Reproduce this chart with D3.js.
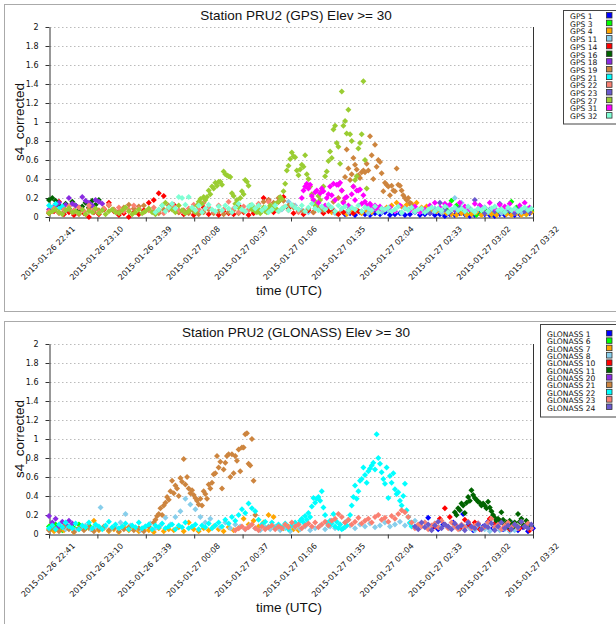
<!DOCTYPE html>
<html lang="en">
<head>
<meta charset="UTF-8">
<title>Station PRU2 s4_corrected</title>
<script src="https://cdn.jsdelivr.net/npm/d3@7"></script>
<style>
    body { margin: 0; background: #fff; }
    svg text { font-family: "DejaVu Sans", sans-serif; fill: #111; }
    .label { font-family: "Liberation Sans", Arial, sans-serif !important; }
    .grid line { stroke: #bbb; stroke-dasharray: 1.5,2.5; }
    .axis path, .axis line { stroke: #333; }
    .axis text { font-size: 8px; }
</style>
</head>
<body>
<svg id="chart" width="616" height="624"></svg>
<script>
    // time span of both panels and its tick labels
    const timeStart = Date.UTC(2015, 0, 26, 22, 41);
    const timeEnd = Date.UTC(2015, 0, 27, 3, 32);
    const xTickLabels = ["2015-01-26 22:41", "2015-01-26 23:10", "2015-01-26 23:39", "2015-01-27 00:08",
        "2015-01-27 00:37", "2015-01-27 01:06", "2015-01-27 01:35", "2015-01-27 02:04",
        "2015-01-27 02:33", "2015-01-27 03:02", "2015-01-27 03:32"];
    const yTicks = [0, 0.2, 0.4, 0.6, 0.8, 1, 1.2, 1.4, 1.6, 1.8, 2];

    const satColors = ["#0000ff", "#00ff00", "#ffa500", "#87ceeb", "#ff0000", "#006400", "#8a2be2",
        "#cd853f", "#00ffff", "#fa8072", "#6a5acd", "#9acd32", "#ff00ff", "#7fffd4"];
    const gpsNames = ["GPS 1", "GPS 3", "GPS 4", "GPS 11", "GPS 14", "GPS 16", "GPS 18", "GPS 19",
        "GPS 21", "GPS 22", "GPS 23", "GPS 27", "GPS 31", "GPS 32"];
    const gloNames = ["GLONASS 1", "GLONASS 6", "GLONASS 7", "GLONASS 8", "GLONASS 10", "GLONASS 11",
        "GLONASS 20", "GLONASS 21", "GLONASS 22", "GLONASS 23", "GLONASS 24"];

    // s4 values, sampled every `step` minutes from `start` (minutes after 22:41)
    const gps1 = [0.03,0.04,0.02,0.05,0.03,0.02,0.04,0.03,0.05,0.02,0.03,0.04,0.02,0.03,0.05,0.02,0.03,0.04,0.02,0.03,
        0.01,0.03,0.02,0.04,0.03,0.01,0.02,0.04,0.03,0.02,0.01,0.03,0.02,0.04,0.02,0.03,0.05,0.04];
    const gps3 = [0.05,0.08,0.17,0.12,0.06,0.03,0.05,0.02,0.04,0.06,0.03,0.05,0.08,0.04,0.16,0.1,0.05,0.03,0.06];
    const gps4 = [0.05,0.04,0.06,0.03,0.05,0.07,0.04,0.06,0.05,0.08,0.06,0.1,0.12,0.15,0.11,0.13,0.14,0.15,0.1,0.11,
        0.08,0.06,0.05,0.04,0.03,0.02,0.04,0.02,0.03,0.05,0.02,0.04,0.03,0.02,0.05,0.03,0.02,0.04,0.02,0.03,0.05];
    const gps11 = [0.08,0.16,0.12,0.07,0.05,0.09,0.06,0.1,0.04,0.07,0.05,0.08,0.06,0.04,0.09,0.05,0.07,0.06,0.04,0.08,
        0.05,0.07,0.06,0.09,0.05,0.12,0.2,0.15,0.08,0.06,0.1,0.05,0.07,0.04,0.08,0.06,0.05,0.09];
    const gps14 = [0.04,0.06,0.16,0.03,0.05,0.02,0.07,0.04,0.0,0.05,0.03,0.08,0.15,0.06,0.02,0.04,0.0,0.05,0.03,0.07,
        0.15,0.18,0.25,0.22,0.08,0.13,0.05,0.03,0.06,0.02,0.04,0.1,0.03,0.05,0.02,0.06,0.04,0.03,0.12,0.05,
        0.02,0.04,0.07,0.2,0.18,0.05,0.16,0.21,0.09,0.04,0.06,0.03,0.07,0.05,0.08,0.04,0.06,0.07,0.03,0.05,
        0.07,0.04,0.06];
    const gps16 = [0.18,0.2,0.17,0.12,0.1,0.14,0.09,0.16,0.12,0.08,0.11,0.15,0.1,0.17,0.13,0.18];
    const gps18 = [0.08,0.1,0.12,0.15,0.1,0.13,0.2,0.14,0.12,0.1,0.21,0.17,0.15,0.12,0.18,0.16,0.14];
    const gps19a = [0.05,0.07,0.04,0.06,0.08,0.05,0.03,0.06,0.09,0.05,0.07,0.09,0.12,0.08,0.06,0.1,0.13,0.09,0.11,0.12,
        0.08,0.06,0.04,0.08,0.12,0.09,0.05,0.07,0.04,0.06,0.03,0.05,0.08,0.04,0.06,0.03,0.05,0.07,0.04,0.06,
        0.08,0.09,0.12,0.16,0.18,0.15,0.2,0.17,0.12,0.1,0.08,0.06,0.09,0.05,0.1,0.07,0.12,0.16,0.2];
    const gps19b = [0.28,0.16,0.42,0.71,0.51,0.39,0.45,0.62,0.55,0.5,0.44,0.41,0.47,0.49,0.47,0.56,0.49,0.85,0.65,0.4,
        0.76,0.53,0.6,0.58,0.46,0.27,0.36,0.34,0.32,0.23,0.33,0.28,0.27,0.51,0.34,0.33,0.28,0.23,0.2,0.18,
        0.2,0.15,0.12,0.1];
    const gps21 = [0.12,0.1,0.14,0.09,0.11,0.07];
    const gps22 = [0.06,0.09,0.05,0.08,0.11,0.07,0.1,0.06,0.12,0.08,0.05,0.09,0.13,0.07,0.1,0.06,0.08,0.12,0.09,0.05,
        0.07,0.1,0.06,0.04,0.08,0.11,0.07,0.05,0.09,0.13,0.08,0.15,0.1,0.06,0.12,0.08,0.16,0.09,0.05,0.11,
        0.07,0.1,0.14,0.08,0.16,0.09,0.06,0.1,0.07,0.12,0.05];
    const gps23 = [0.04,0.06,0.15,0.08,0.05,0.07,0.1,0.06,0.09,0.18,0.12,0.04,0.08,0.06,0.14,0.05,0.07,0.04,0.09,0.06,0.05];
    const gps27a = [0.04,0.06,0.08,0.05,0.03,0.07,0.09,0.05,0.06,0.04,0.08,0.03,0.06,0.05,0.09,0.04,0.07,0.03,0.06,0.08,
        0.05,0.04,0.07,0.1,0.06,0.03,0.05,0.08,0.04,0.06,0.09,0.05,0.03,0.07,0.12,0.15,0.1,0.08,0.05,0.12,
        0.07,0.04,0.06,0.09,0.05];
    const gps27b = [0.12,0.16,0.19,0.14,0.21,0.18,0.21,0.28,0.24,0.32,0.3,0.36,0.33,0.37,0.37,0.34,0.48,0.45,0.44,0.43,
        0.42,0.25,0.22,0.14,0.18,0.1,0.2,0.27,0.24,0.39,0.37,0.33,0.12,0.08,0.1,0.06,0.05,0.08,0.04,0.07,
        0.1,0.06,0.05,0.09,0.12,0.07,0.1,0.14,0.08,0.16,0.21,0.19,0.27,0.35,0.49,0.54,0.61,0.68,0.64,0.63,
        0.49,0.44,0.5,0.55,0.53,0.65,0.45,0.4,0.32,0.24,0.18,0.12,0.15,0.22,0.18,0.27,0.32,0.43,0.48,0.59,
        0.69,0.62,0.92,0.96,0.78,0.74,0.56,1.32,0.96,1.01,0.88,1.13,0.87,0.8,0.32,0.39,0.43,0.72,0.78,0.87,
        1.43,0.6,0.3];
    const gps31a = [0.2,0.28,0.32,0.35,0.3,0.34,0.22,0.18,0.26,0.28,0.15,0.25,0.3,0.27,0.12,0.2,0.24,0.32,0.23,0.35,
        0.18,0.34,0.34,0.36,0.28,0.15,0.2,0.21,0.12,0.1,0.24,0.32,0.18,0.28,0.28,0.29,0.14,0.23,0.16,0.12,
        0.09,0.14,0.11,0.08,0.12,0.1,0.07,0.11,0.09];
    const gps31b = [0.08,0.1,0.06,0.12,0.09,0.07,0.11,0.05,0.08,0.12,0.15,0.1,0.14,0.13,0.09,0.15,0.11,0.08,0.14,0.12,
        0.1,0.15,0.09,0.13,0.11,0.14,0.08,0.12,0.15,0.1];
    const gps32 = [0.05,0.08,0.12,0.06,0.1,0.14,0.09,0.21,0.2,0.13,0.21,0.1,0.07,0.12,0.05,0.09,0.13,0.08,0.06,0.11,
        0.07,0.12,0.09,0.05,0.1,0.14,0.08,0.06,0.11,0.13,0.09,0.12,0.07,0.1,0.05,0.08,0.12,0.06,0.09,0.11,
        0.07,0.13,0.1,0.08,0.12,0.06,0.1,0.14,0.09,0.07,0.11,0.08,0.13,0.1,0.06,0.12,0.09,0.11,0.07,0.1,
        0.08,0.12,0.06,0.1,0.09,0.07,0.11,0.05,0.09,0.08,0.1,0.06,0.08,0.11,0.05,0.09,0.07,0.1,0.06,0.08,
        0.09,0.05,0.08,0.1,0.06,0.09,0.07,0.11,0.05,0.08,0.1,0.07,0.09,0.06,0.11,0.08,0.05,0.09,0.07,0.1,
        0.06,0.09,0.11,0.07,0.08,0.05,0.1,0.07,0.09,0.06,0.08,0.1,0.07,0.09];

    const glo1 = [0.17,0.08,0.05,0.1,0.07,0.12,0.06,0.21,0.09,0.04,0.11,0.08,0.13,0.06,0.1,0.05,0.08,0.11,0.04,0.07,0.03,0.06];
    const glo6 = [0.08,0.05,0.1,0.07,0.04,0.09,0.06,0.08,0.05,0.1,0.07,0.06,0.09,0.05,0.08,0.06];
    const glo7 = [0.05,0.03,0.06,0.04,0.07,0.02,0.05,0.08,0.06,0.14,0.04,0.06,0.03,0.05,0.02,0.07,0.04,0.06,0.03,0.05,
        0.04,0.02,0.06,0.03,0.05,0.04,0.07,0.03,0.12,0.05,0.03,0.06,0.04,0.08,0.05,0.03,0.07,0.04,0.06,0.16,
        0.1,0.14,0.08,0.12,0.2,0.18,0.09,0.06,0.08,0.05,0.04];
    const glo8 = [0.05,0.08,0.04,0.06,0.09,0.05,0.07,0.28,0.08,0.05,0.07,0.12,0.21,0.09,0.06,0.04,0.08,0.11,0.06,0.09,
        0.17,0.1,0.18,0.24,0.37,0.31,0.26,0.18,0.12,0.16,0.09,0.07,0.12,0.06,0.1,0.08,0.05,0.09,0.06,0.04,
        0.07,0.05,0.08,0.04,0.06,0.03,0.07,0.05,0.08,0.04,0.06,0.09,0.05,0.08,0.06,0.1,0.07,0.09,0.06,0.1,
        0.08,0.11,0.07,0.09,0.12,0.08,0.1,0.13,0.09,0.11,0.14,0.1,0.12,0.08,0.11,0.07,0.1,0.06,0.09,0.05,
        0.08,0.06,0.04,0.07,0.05,0.03,0.06,0.04,0.05,0.03,0.04];
    const glo10 = [0.08,0.16,0.27,0.18,0.1,0.06,0.15,0.09,0.12,0.05,0.08,0.16,0.11,0.14,0.07,0.05,0.1,0.06,0.08,0.04];
    const glo11 = [0.23,0.2,0.27,0.25,0.32,0.3,0.22,0.33,0.39,0.35,0.46,0.41,0.38,0.36,0.34,0.33,0.3,0.32,0.3,0.27,
        0.34,0.28,0.24,0.2,0.17,0.14,0.16,0.12,0.23,0.15,0.1,0.12,0.08,0.14,0.1,0.07,0.12,0.09,0.21,0.13,
        0.16,0.1,0.08,0.14,0.11,0.07,0.09];
    const glo20 = [0.19,0.12,0.16,0.08,0.13,0.1,0.14,0.11];
    const glo21a = [0.04,0.06,0.03,0.08,0.05,0.02,0.06,0.04,0.07,0.03,0.05,0.08,0.04,0.06,0.03,0.05,0.07,0.04,0.06,0.03,0.08,0.12];
    const glo21b = [0.15,0.19,0.21,0.27,0.2,0.3,0.33,0.39,0.36,0.45,0.56,0.43,0.51,0.48,0.4,0.59,0.55,0.79,0.52,0.6,
        0.48,0.43,0.46,0.41,0.38,0.35,0.31,0.37,0.3,0.45,0.42,0.37,0.52,0.48,0.54,0.63,0.64,0.82,0.7,0.76,
        0.48,0.68,0.75,0.82,0.84,0.6,0.84,0.64,0.82,0.77,0.89,0.66,0.91,0.91,1.05,1.06,0.74,0.72,1.0,0.56,
        0.2];
    const glo22a = [0.06,0.09,0.05,0.1,0.07,0.12,0.08,0.06,0.11,0.05,0.09,0.07,0.12,0.06,0.1,0.08,0.05,0.09,0.13,0.07,
        0.1,0.06,0.08,0.11,0.05,0.09,0.07,0.12,0.06,0.08,0.1,0.05,0.09,0.07,0.11,0.06,0.08,0.1,0.05,0.09,
        0.07,0.12,0.06,0.08,0.1,0.05,0.09,0.07,0.11,0.06,0.09,0.12,0.08,0.15,0.11,0.18,0.14,0.2,0.26,0.22,
        0.32,0.27,0.24,0.15,0.1,0.13,0.08,0.12,0.06,0.1,0.07,0.11,0.05,0.09,0.12];
    const glo22b = [0.1,0.14,0.16,0.12,0.19,0.15,0.22,0.18,0.29,0.38,0.33,0.37,0.39,0.35,0.45,0.28,0.2,0.12,0.09,0.14,
        0.11,0.21,0.08,0.13,0.06,0.1,0.05,0.06,0.12,0.09,0.15,0.2,0.3,0.39,0.51,0.37,0.45,0.56,0.58,0.7,
        0.62,0.54,0.66,0.69,0.72,0.75,0.68,1.05,0.8,0.74,0.65,0.58,0.53,0.7,0.38,0.61,0.54,0.64,0.47,0.42,
        0.44,0.35,0.3,0.4,0.53,0.25,0.18,0.12,0.08];
    const glo23 = [0.04,0.06,0.08,0.05,0.07,0.1,0.06,0.04,0.08,0.05,0.07,0.09,0.05,0.08,0.06,0.1,0.07,0.12,0.08,0.1,
        0.06,0.09,0.11,0.08,0.12,0.07,0.1,0.13,0.09,0.14,0.16,0.21,0.18,0.12,0.15,0.1,0.13,0.17,0.11,0.14,
        0.16,0.12,0.18,0.2,0.15,0.17,0.13,0.19,0.16,0.21,0.25,0.23,0.18,0.12,0.06,0.1,0.08,0.12,0.05,0.09,
        0.11,0.07,0.14,0.1,0.06,0.12,0.08,0.05,0.1,0.07,0.13,0.06,0.09,0.11,0.05,0.08,0.12,0.16,0.07,0.1,
        0.05,0.09,0.12,0.07,0.1,0.06,0.13,0.08,0.11,0.06];
    const glo24 = [0.08,0.05,0.12,0.07,0.1,0.04,0.09,0.13,0.06,0.1,0.08,0.05,0.11,0.07,0.09,0.04,0.12,0.08,0.06,0.1,
        0.05,0.09,0.07,0.11,0.04,0.08,0.12,0.06,0.09,0.05,0.1,0.07,0.13,0.08,0.06,0.1];

    // [satellite index, start minute, step minutes, values]
    const gpsSegments = [
        [0, 178, 3, gps1], [1, 236, 3, gps3], [2, 170, 3, gps4], [3, 140, 4, gps11], [4, 0, 3, gps14],
        [5, 0, 2, gps16], [6, 0, 2, gps18], [7, 0, 3, gps19a], [7, 176, 1, gps19b], [8, 0, 2, gps21],
        [9, 0, 3, gps22], [10, 229, 3, gps23], [11, 0, 2, gps27a], [11, 89, 1, gps27b],
        [12, 152, 1, gps31a], [12, 202, 3, gps31b], [13, 64, 2, gps32]
    ];
    const gloSegments = [
        [0, 228, 3, glo1], [1, 0, 2, glo6], [2, 0, 3, glo7], [3, 10, 3, glo8], [4, 232, 3, glo10],
        [5, 244, 1, glo11], [6, 0, 2, glo20], [7, 0, 3, glo21a], [7, 64, 1, glo21b],
        [8, 0, 2, glo22a], [8, 150, 1, glo22b], [9, 112, 2, glo23], [10, 220, 2, glo24]
    ];

    let svg = d3.select('svg#chart');
    let xScale = d3.scaleUtc().domain([timeStart, timeEnd]).range([49, 533]);
    let yScale = d3.scaleLinear().domain([0, 2]).range([213, 23]);
    let xTicks = xTickLabels.map(function (d, i) {
        return new Date(timeStart + i * (timeEnd - timeStart) / (xTickLabels.length - 1));
    });
    let marker = d3.symbol().type(d3.symbolSquare).size(18);

    function drawPanel(top, title, names, segments, legend) {
        let g = svg.append('g').attr('transform', 'translate(0,' + top + ')');

        g.append('rect')
            .attr('x', 4.5).attr('y', 0.5).attr('width', 700).attr('height', 307)
            .attr('fill', 'none').attr('stroke', '#aaa');

        // dotted grid
        g.append('g').attr('class', 'grid')
            .selectAll('line')
            .data(yTicks.slice(1))
            .enter().append('line')
            .attr('x1', 50).attr('x2', 533)
            .attr('y1', function (d) { return Math.round(yScale(d)) + 0.5; })
            .attr('y2', function (d) { return Math.round(yScale(d)) + 0.5; });

        // right frame edge
        g.append('line')
            .attr('x1', 533.5).attr('x2', 533.5)
            .attr('y1', yScale(2)).attr('y2', yScale(0) + 3)
            .attr('stroke', '#333');

        g.append('g').attr('class', 'axis')
            .attr('transform', 'translate(49.5,0)')
            .call(d3.axisLeft(yScale).tickValues(yTicks).tickFormat(d3.format('~g'))
                .tickSize(4).tickSizeOuter(0).tickPadding(7));

        let xAxis = g.append('g').attr('class', 'axis')
            .attr('transform', 'translate(0,' + (yScale(0) + 0.5) + ')')
            .call(d3.axisBottom(xScale).tickValues(xTicks)
                .tickFormat(function (d, i) { return xTickLabels[i]; })
                .tickSize(4).tickSizeOuter(0));
        xAxis.selectAll('text')
            .attr('x', 0).attr('y', 0).attr('dy', 0)
            .attr('text-anchor', 'end')
            .attr('transform', 'translate(26,12) rotate(-45)');

        // points, one group per segment, in legend order
        segments.forEach(function (s) {
            g.append('g')
                .selectAll('path')
                .data(s[3])
                .enter().append('path')
                .attr('d', marker)
                .attr('fill', satColors[s[0]])
                .attr('transform', function (d, i) {
                    let t = timeStart + (s[1] + i * s[2]) * 60000;
                    return 'translate(' + xScale(t) + ',' + yScale(d) + ') rotate(45)';
                });
        });

        g.append('text')
            .attr('class', 'label')
            .attr('x', 296).attr('y', 16)
            .attr('text-anchor', 'middle')
            .style('font-size', '13.5px')
            .text(title);

        g.append('text')
            .attr('class', 'label')
            .attr('transform', 'translate(24,118) rotate(-90)')
            .attr('text-anchor', 'middle')
            .style('font-size', '13.5px')
            .text('s4_corrected');

        g.append('text')
            .attr('class', 'label')
            .attr('x', 289).attr('y', 291)
            .attr('text-anchor', 'middle')
            .style('font-size', '13.5px')
            .text('time (UTC)');

        // legend
        let lg = g.append('g');
        lg.append('rect')
            .attr('x', legend.x + 0.5).attr('y', legend.y + 0.5)
            .attr('width', 100).attr('height', legend.h)
            .attr('fill', '#fff').attr('stroke', '#444');
        let items = lg.selectAll('g.item')
            .data(names)
            .enter().append('g')
            .attr('class', 'item')
            .attr('transform', function (d, i) {
                return 'translate(0,' + (legend.first + i * legend.step) + ')';
            });
        items.append('text')
            .attr('x', legend.x + 7)
            .style('font-size', '7.6px')
            .text(function (d) { return d; });
        items.append('rect')
            .attr('x', 606.5).attr('y', -6.5)
            .attr('width', 5.5).attr('height', 5.5)
            .attr('fill', function (d, i) { return satColors[i]; })
            .attr('stroke', '#333').attr('stroke-width', 0.8);
    }

    drawPanel(4, 'Station PRU2 (GPS) Elev >= 30', gpsNames, gpsSegments,
        {x: 563, y: 6, h: 113.5, first: 15, step: 7.7});
    drawPanel(321, 'Station PRU2 (GLONASS) Elev >= 30', gloNames, gloSegments,
        {x: 540, y: 3, h: 92.5, first: 16, step: 7.35});
</script>
</body>
</html>
